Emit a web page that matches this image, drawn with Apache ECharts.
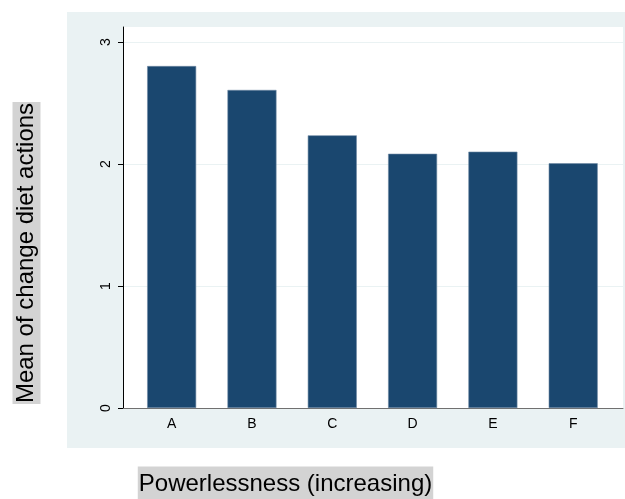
<!DOCTYPE html>
<html>
<head>
<meta charset="utf-8">
<script src="https://cdn.jsdelivr.net/npm/echarts@6/dist/echarts.min.js"></script>
<style>
html,body{margin:0;padding:0;background:#fff;}
#chart{width:625px;height:499px;}
</style>
</head>
<body>
<div id="chart"></div>
<script>
var categories = ['A', 'B', 'C', 'D', 'E', 'F'];
var meanValues = [2.803, 2.607, 2.235, 2.084, 2.101, 2.006];
var yTicks = [0, 1, 2, 3];
var yTitle = 'Mean of change diet actions';
var xTitle = 'Powerlessness (increasing)';

var barData = meanValues.map(function (v, i) { return [i + 1, v]; });

var chart = echarts.init(document.getElementById('chart'), null, { renderer: 'canvas' });
var font = '"Liberation Sans", Arial, sans-serif';

chart.setOption({
  animation: false,
  backgroundColor: '#ffffff',
  graphic: [
    { type: 'rect', z: -10, shape: { x: 67, y: 12, width: 560, height: 436 }, style: { fill: '#eaf2f3' } },
    { type: 'rect', z: -9, shape: { x: 123, y: 27, width: 500, height: 381 }, style: { fill: '#ffffff' } },
    { type: 'text', x: 26.5, y: 253, rotation: Math.PI / 2,
      style: { text: yTitle, font: '24px ' + font, fill: '#000', align: 'center', verticalAlign: 'middle',
               backgroundColor: '#d3d3d3', padding: [3, 1, 1, 1] } },
    { type: 'text', x: 285.5, y: 484,
      style: { text: xTitle, font: '24px ' + font, fill: '#000', align: 'center', verticalAlign: 'middle',
               backgroundColor: '#d3d3d3', padding: [3, 1, 8, 1] } }
  ],
  grid: { left: 123, right: 2, top: 27, bottom: 91, containLabel: false },
  xAxis: {
    type: 'value', min: 0.394, max: 6.62,
    axisLine: { show: true, lineStyle: { color: '#707070', width: 1 } },
    axisTick: { show: false },
    splitLine: { show: false },
    axisLabel: {
      customValues: [1, 2, 3, 4, 5, 6],
      formatter: function (v) { return categories[Math.round(v) - 1] || ''; },
      color: '#000', fontSize: 14, fontFamily: font, margin: 9
    }
  },
  yAxis: {
    type: 'value', min: 0, max: 3.123, interval: 1,
    axisLine: { show: true, lineStyle: { color: '#000', width: 1 } },
    axisTick: { show: true, length: 5, customValues: yTicks, lineStyle: { color: '#000' } },
    splitLine: { show: true, lineStyle: { color: '#eaf2f3', width: 1 } },
    axisLabel: {
      customValues: yTicks, rotate: 90, color: '#000', fontSize: 14, fontFamily: font, margin: 10,
      formatter: function (v) { return String(v); }
    }
  },
  series: [{
    type: 'bar',
    data: barData,
    barWidth: 49,
    itemStyle: { color: '#1a476f', borderColor: '#6d88a3', borderWidth: 0.6 }
  }]
});
</script>
</body>
</html>
